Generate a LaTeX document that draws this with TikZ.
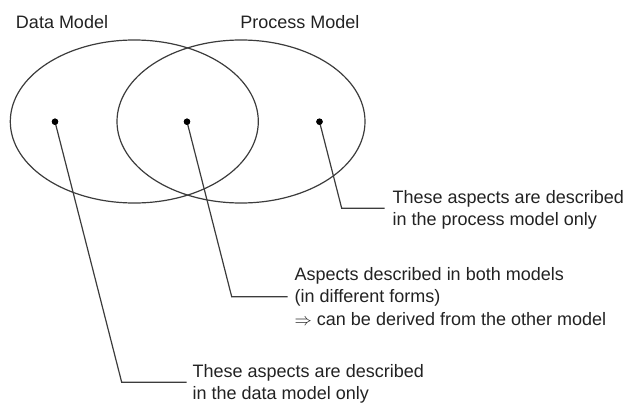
\documentclass[tikz,border=0pt]{standalone}
\usepackage{fontspec}
\setmainfont{Liberation Sans}
\usetikzlibrary{shapes.geometric}
\definecolor{ink}{HTML}{222222}
\definecolor{linec}{HTML}{3C3C3C}
\tikzset{
  setlabel/.style={anchor=base west, inner sep=0pt, text=ink, font=\fontsize{18}{22.5}\selectfont},
  note/.style={anchor=base west, inner sep=0pt, text=ink, align=left, font=\fontsize{18}{22.5}\selectfont},
  setellipse/.style={draw=linec, line width=1.2pt, ellipse, inner sep=0pt, minimum width=248pt, minimum height=163pt},
  pointdot/.style={circle, fill=black, inner sep=0pt, minimum size=6.4pt},
  leader/.style={draw=linec, line width=1.2pt}
}
\begin{document}
\begin{tikzpicture}[x=1pt,y=-1pt]
\useasboundingbox (0,0) rectangle (629,404);
% sets
\node[setellipse] (dm) at (134.3,121.5) {};
\node[setellipse] (pm) at (241,121.5) {};
\node[setlabel] (dml) at (15.8,28.5) {Data Model};
\node[setlabel] (pml) at (240.2,28.5) {Process Model};
% points
\node[pointdot] (pd) at (55,121.7) {};
\node[pointdot] (pb) at (187,121.7) {};
\node[pointdot] (pp) at (319.5,121.7) {};
% notes (anchor is the baseline of the last line)
\node[note] (tp) at (392.5,225.5) {These aspects are described\\in the process model only};
\node[note] (tb) at (294.5,325) {Aspects described in both models\\(in different forms)\\$\Rightarrow$ can be derived from the other model};
\node[note] (td) at (192.5,399.8) {These aspects are described\\in the data model only};
% corners
\coordinate (cp) at (341.7,208.3);
\coordinate (cb) at (231.7,296.7);
\coordinate (cd) at (121.7,382.3);
% leaders
\draw[leader] (pp.center) -- (cp) -- ([xshift=-8pt]cp -| tp.west);
\draw[leader] (pb.center) -- (cb) -- ([xshift=-7pt]cb -| tb.west);
\draw[leader] (pd.center) -- (cd) -- ([xshift=-6pt]cd -| td.west);
\node[pointdot] at (pd) {};
\node[pointdot] at (pb) {};
\node[pointdot] at (pp) {};
\end{tikzpicture}
\end{document}
